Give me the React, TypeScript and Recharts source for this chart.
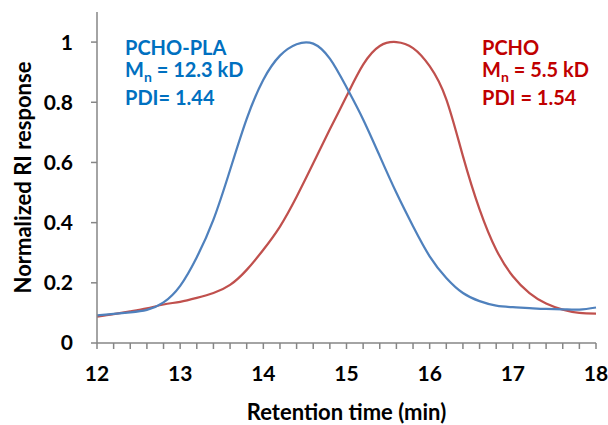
import React from "react";
import { LineChart, Line, XAxis, YAxis, Customized } from "recharts";

const retentionTime = [12.0, 12.2, 12.4, 12.6, 12.8, 13.0, 13.2, 13.4, 13.6, 13.8, 14.0, 14.2, 14.4, 14.6, 14.8, 15.0, 15.2, 15.4, 15.6, 15.8, 16.0, 16.2, 16.4, 16.6, 16.8, 17.0, 17.2, 17.4, 17.6, 17.8, 18.0];
const pchoPla = [0.092, 0.097, 0.102, 0.11, 0.135, 0.19, 0.285, 0.41, 0.575, 0.745, 0.875, 0.955, 0.993, 0.995, 0.945, 0.85, 0.743, 0.621, 0.499, 0.388, 0.288, 0.216, 0.166, 0.139, 0.124, 0.119, 0.116, 0.113, 0.112, 0.111, 0.118];
const pcho = [0.088, 0.096, 0.105, 0.115, 0.128, 0.137, 0.15, 0.166, 0.193, 0.243, 0.31, 0.387, 0.486, 0.597, 0.71, 0.82, 0.925, 0.987, 1.0, 0.98, 0.92, 0.81, 0.621, 0.444, 0.31, 0.222, 0.166, 0.131, 0.111, 0.1, 0.098];

const xTicks = [12, 12.2, 12.4, 12.6, 12.8, 13, 13.2, 13.4, 13.6, 13.8, 14, 14.2, 14.4, 14.6, 14.8, 15, 15.2, 15.4, 15.6, 15.8, 16, 16.2, 16.4, 16.6, 16.8, 17, 17.2, 17.4, 17.6, 17.8, 18];
const yTicks = [0, 0.2, 0.4, 0.6, 0.8, 1];

const data = retentionTime.map((t, i) => ({ t, pchoPla: pchoPla[i], pcho: pcho[i] }));

const FONT = "Lato, 'Open Sans', sans-serif";
const AXIS = "#868686";
const BLUE_LINE = "#4F81BD";
const RED_LINE = "#C0504D";
const BLUE_TEXT = "#0070C0";
const RED_TEXT = "#C00000";

const Annotation = ({ x, color, lines }: { x: number; color: string; lines: [string, string, string] }) => (
  <g fontFamily={FONT} fontWeight={700} fontSize={20} fill={color}>
    <text x={x} y={55}>{lines[0]}</text>
    <text x={x} y={77}>
      M<tspan fontSize={14} dy={5}>n</tspan>
      <tspan dy={-5}>{lines[1]}</tspan>
    </text>
    <text x={x} y={105}>{lines[2]}</text>
  </g>
);

export default function App() {
  return (
    <div style={{ position: "absolute", left: 0, top: 0 }}>
      <LineChart width={608} height={425} data={data} margin={{ top: 12, right: 12, bottom: 0, left: 0 }}>
        <XAxis
          dataKey="t"
          type="number"
          domain={[12, 18]}
          ticks={xTicks}
          interval={0}
          tickFormatter={(v: number) => (Math.abs(v - Math.round(v)) < 1e-6 ? String(Math.round(v)) : "")}
          height={82}
          stroke={AXIS}
          strokeWidth={1.5}
          tickSize={6}
          tickMargin={17}
          tick={{ fill: "#000", fontFamily: FONT, fontWeight: 700, fontSize: 21 }}
          label={{ value: "Retention time (min)", position: "insideBottom", offset: 5, fill: "#000", fontFamily: FONT, fontWeight: 700, fontSize: 22 }}
        />
        <YAxis
          type="number"
          domain={[0, 1.1]}
          ticks={yTicks}
          width={97}
          stroke={AXIS}
          strokeWidth={1.5}
          tickSize={6}
          tickMargin={18}
          tick={{ fill: "#000", fontFamily: FONT, fontWeight: 700, fontSize: 21 }}
          label={{ value: "Normalized RI response", angle: -90, position: "insideLeft", offset: 23, fill: "#000", fontFamily: FONT, fontWeight: 700, fontSize: 22, style: { textAnchor: "middle" } }}
        />
        <Line type="natural" dataKey="pcho" stroke={RED_LINE} strokeWidth={2.25} dot={false} isAnimationActive={false} />
        <Line type="natural" dataKey="pchoPla" stroke={BLUE_LINE} strokeWidth={2.25} dot={false} isAnimationActive={false} />
        <Customized component={() => (
          <g>
            <Annotation x={125} color={BLUE_TEXT} lines={["PCHO-PLA", " = 12.3 kD", "PDI= 1.44"]} />
            <Annotation x={482} color={RED_TEXT} lines={["PCHO", " = 5.5 kD", "PDI = 1.54"]} />
          </g>
        )} />
      </LineChart>
    </div>
  );
}
